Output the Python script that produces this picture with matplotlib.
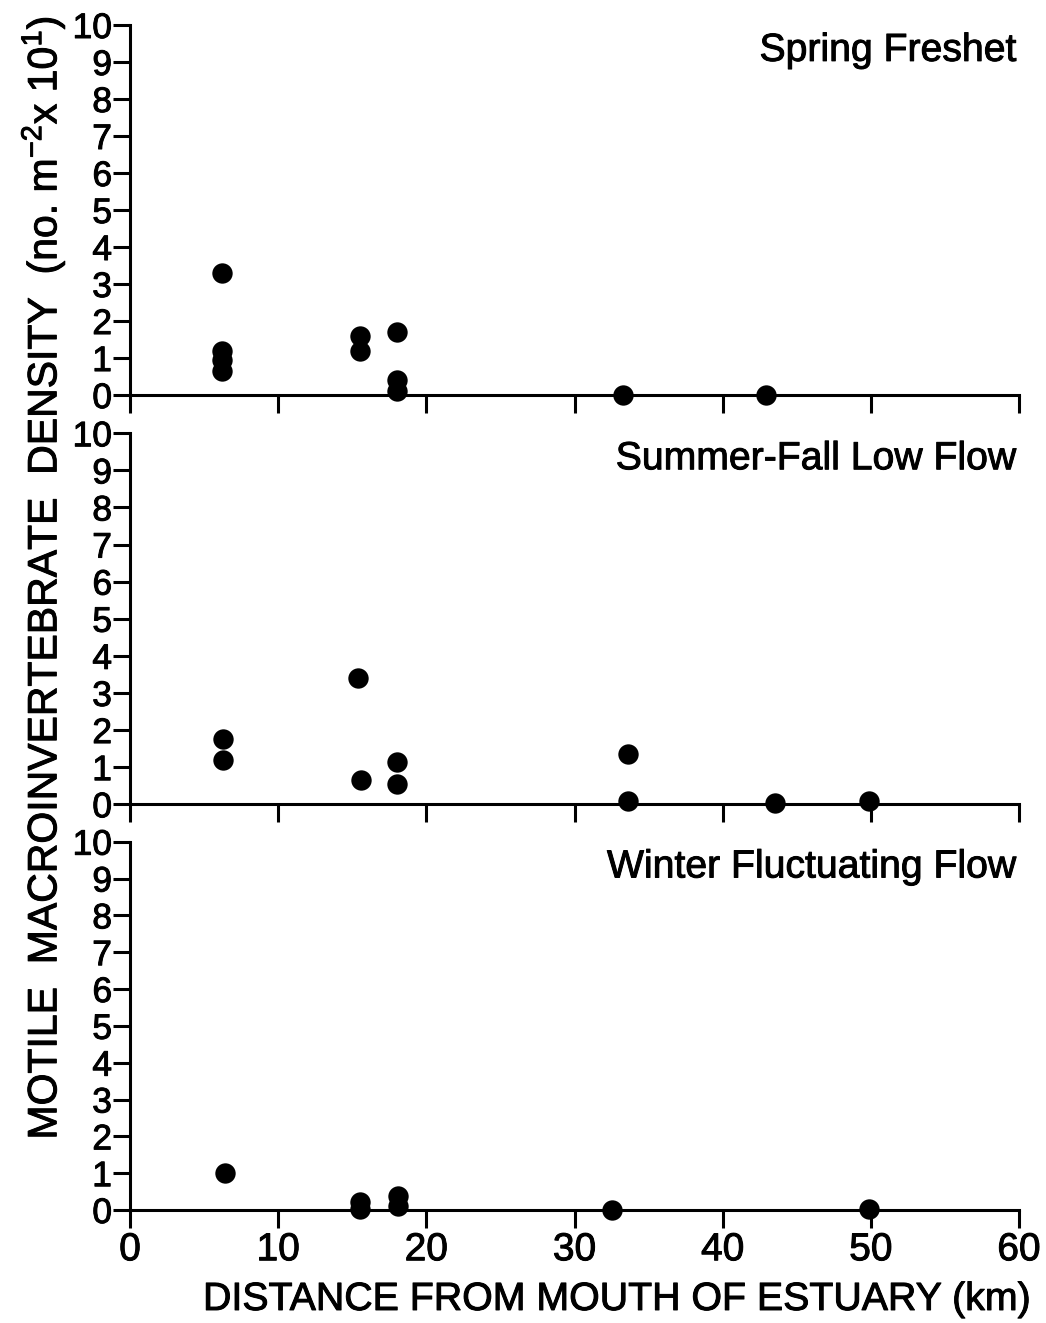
import matplotlib
matplotlib.use("Agg")
import matplotlib.pyplot as plt
import matplotlib.patheffects as pe

plt.rcParams['font.family'] = ['Liberation Sans', 'DejaVu Sans']
plt.rcParams['mathtext.fontset'] = 'custom'
plt.rcParams['mathtext.rm'] = 'Liberation Sans'
plt.rcParams['mathtext.it'] = 'Liberation Sans:italic'
plt.rcParams['mathtext.bf'] = 'Liberation Sans:bold'

# Station distance from estuary mouth (km) and motile macroinvertebrate density
spring_km = [6.2, 6.2, 6.2, 6.2, 15.5, 15.5, 18.0, 18.0, 18.0, 33.3, 42.9]
spring_density = [3.3, 1.2, 0.95, 0.65, 1.6, 1.2, 1.7, 0.4, 0.1, 0.0, 0.0]

summer_km = [6.3, 6.3, 15.4, 15.6, 18.0, 18.0, 33.6, 33.6, 43.5, 49.9]
summer_density = [1.75, 1.2, 3.4, 0.65, 1.15, 0.55, 1.35, 0.08, 0.03, 0.08]

winter_km = [6.4, 15.5, 15.5, 18.1, 18.1, 32.5, 49.9]
winter_density = [1.0, 0.22, 0.02, 0.38, 0.1, 0.0, 0.03]

panel_titles = ["Spring Freshet", "Summer-Fall Low Flow", "Winter Fluctuating Flow"]
x_ticks = [0, 10, 20, 30, 40, 50, 60]
y_ticks = list(range(0, 11))

# slightly heavier glyph strokes, like a printed Helvetica figure
heavy = [pe.withStroke(linewidth=0.7, foreground='black')]

fig = plt.figure(figsize=(10.46, 13.23), dpi=100)

left, width = 0.1243, 0.8499
panel_boxes = [(0.7014, 0.9811), (0.3921, 0.6725), (0.0854, 0.3638)]
series = [(spring_km, spring_density), (summer_km, summer_density), (winter_km, winter_density)]

for i, ((bot, top), (xs, ys), title) in enumerate(zip(panel_boxes, series, panel_titles)):
    ax = fig.add_axes([left, bot, width, top - bot])
    ax.set_xlim(0, 60)
    ax.set_ylim(0, 10)
    for side in ("top", "right"):
        ax.spines[side].set_visible(False)
    for side in ("left", "bottom"):
        ax.spines[side].set_linewidth(2.2)
    ax.set_xticks(x_ticks)
    ax.set_yticks(y_ticks)
    ax.tick_params(axis='x', direction='out', length=13, width=2.2, pad=3, labelsize=28)
    ax.tick_params(axis='y', direction='out', length=12, width=2.2, pad=1, labelsize=25.5)
    if i < 2:
        ax.set_xticklabels([])
    for lab in ax.get_xticklabels() + ax.get_yticklabels():
        lab.set_path_effects(heavy)
    ax.scatter(xs, ys, s=215, color='black', zorder=5, clip_on=False, linewidths=0)
    ax.text(0.9966, 9.3, title, transform=ax.get_yaxis_transform(),
            ha='right', va='center', fontsize=28.2, path_effects=heavy)

fig.text(0.041, 0.5635,
         r"MOTILE  MACROINVERTEBRATE  DENSITY  (no. m$^{-2}$x 10$^{1}$)",
         rotation=90, ha='center', va='center', fontsize=29.5, path_effects=heavy)
fig.text(0.589, 0.0174, "DISTANCE FROM MOUTH OF ESTUARY (km)",
         ha='center', va='center', fontsize=28.3, path_effects=heavy)

fig.savefig("out.png", dpi=100, facecolor='white')
